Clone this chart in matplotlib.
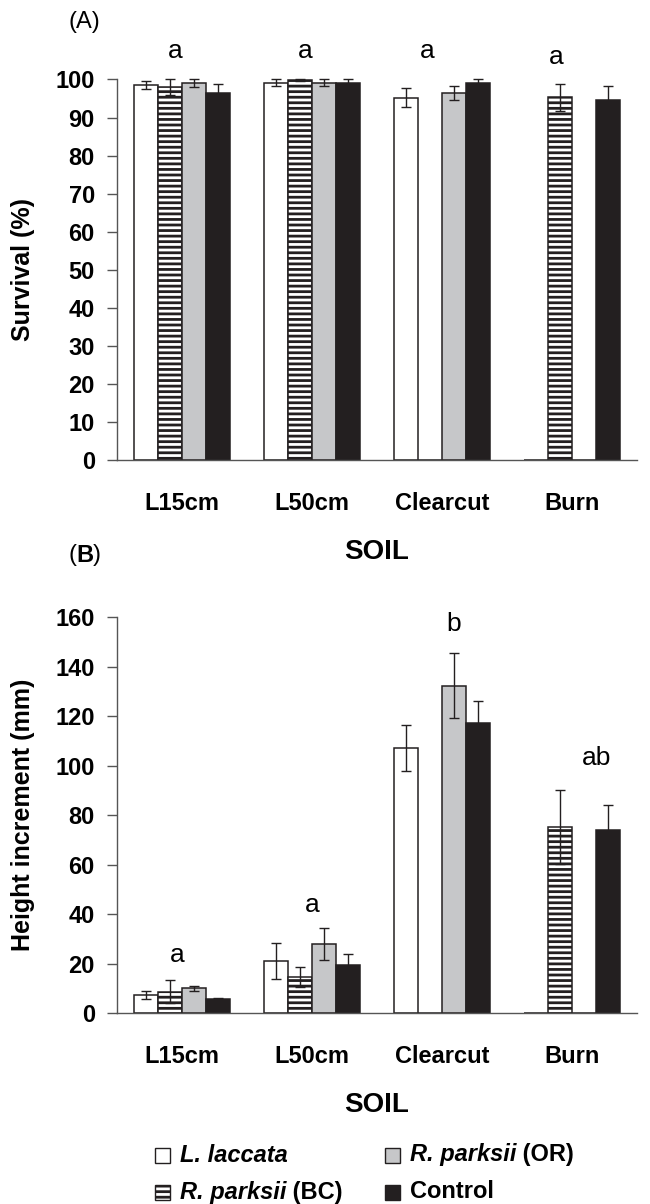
import matplotlib.pyplot as plt
from matplotlib.patches import Rectangle
import numpy as np

plt.rcParams['font.family'] = ['Liberation Sans', 'DejaVu Sans']
plt.rcParams['hatch.linewidth'] = 2.0

soils = ['L15cm', 'L50cm', 'Clearcut', 'Burn']
treatments = ['L. laccata', 'R. parksii (BC)', 'R. parksii (OR)', 'Control']

# survival (%) per treatment, order of soils
surv = [
    [98.5, 99.2, 95.2, 0],
    [98.0, 99.8, 0, 95.3],
    [99.0, 99.2, 96.5, 0],
    [96.5, 99.2, 99.0, 94.5],
]
surv_err = [
    [1.0, 0.8, 2.5, 0],
    [2.0, 0.3, 0, 3.5],
    [1.0, 0.8, 1.8, 0],
    [2.2, 0.8, 1.0, 3.8],
]
surv_letters = ['a', 'a', 'a', 'a']
surv_letter_y = [107.6, 107.6, 107.6, 105.8]
surv_letter_dx = [-0.05, -0.05, -0.115, -0.12]

# height increment (mm)
height = [
    [7.3, 21.1, 107.0, 0],
    [8.6, 14.7, 0, 75.3],
    [10.0, 27.8, 132.3, 0],
    [5.5, 19.3, 117.0, 74.0],
]
height_err = [
    [1.5, 7.3, 9.2, 0],
    [4.7, 4.0, 0, 15.0],
    [1.0, 6.5, 13.2, 0],
    [0.5, 4.5, 9.2, 10.0],
]
height_letters = ['a', 'a', 'b', 'ab']
height_letter_y = [23.5, 43.5, 157, 103]
height_letter_dx = [-0.04, 0.0, 0.09, 0.19]

face = ['white', 'white', '#c6c7c9', '#231f20']
hatch = [None, '---', None, None]
dark = '#231f20'
FS = 17

fig = plt.figure(figsize=(6.5, 12.04), dpi=100)
axA = fig.add_axes([0.18, 0.618, 0.80, 0.316])
axB = fig.add_axes([0.18, 0.1586, 0.80, 0.3289])

x = np.arange(len(soils))
w = 0.185
offs = (np.arange(4) - 1.5) * w


def draw_panel(ax, vals, errs, ymax, ystep, ylabel, hpx):
    for i in range(4):
        ax.bar(x + offs[i], vals[i], w, color=face[i], edgecolor=dark,
               hatch=hatch[i], linewidth=1.1, zorder=2)
        v = np.array(vals[i])
        e = np.array(errs[i])
        m = e > 0
        ax.errorbar((x + offs[i])[m], v[m], yerr=e[m], fmt='none', ecolor=dark,
                    elinewidth=1.0, capsize=3.5, capthick=1.0, zorder=3, clip_on=False)
    ax.set_xlim(-0.5, 3.5)
    ax.set_ylim(0, ymax)
    ax.set_yticks(np.arange(0, ymax + 1, ystep))
    ax.set_xticks(x)
    ax.set_xticklabels(soils, fontsize=FS, fontweight='bold')
    ax.tick_params(axis='x', length=0, pad=23)
    ax.tick_params(axis='y', length=7, width=1, color='#555555', labelsize=FS, pad=9)
    for lab in ax.get_yticklabels():
        lab.set_fontweight('bold')
    for s in ['top', 'right']:
        ax.spines[s].set_visible(False)
    for s in ['left', 'bottom']:
        ax.spines[s].set_color('#555555')
        ax.spines[s].set_linewidth(1.0)
    ax.set_ylabel(ylabel, fontsize=18, fontweight='bold')
    ax.yaxis.label.set_va('center')
    ax.yaxis.set_label_coords(-94 / 520, 0.5)
    ax.set_xlabel('SOIL', fontsize=20, fontweight='bold')
    ax.xaxis.label.set_va('center')
    ax.xaxis.set_label_coords(0.5, -92 / hpx)


draw_panel(axA, surv, surv_err, 100, 10, 'Survival (%)', 0.316 * 1204)
draw_panel(axB, height, height_err, 160, 20, 'Height increment (mm)', 0.3289 * 1204)

for i, t in enumerate(surv_letters):
    axA.text(x[i] + surv_letter_dx[i], surv_letter_y[i], t, fontsize=19,
             ha='center', va='center', clip_on=False)
for i, t in enumerate(height_letters):
    axB.text(x[i] + height_letter_dx[i], height_letter_y[i], t, fontsize=19,
             ha='center', va='center')

fig.text(68 / 650, 1 - 22 / 1204, '(A)', fontsize=17, va='center')
pb = fig.text(68 / 650, 1 - 555 / 1204, '(', fontsize=17, va='center')
pb2 = plt.annotate('B', xy=(1, 0.5), xycoords=pb, va='center', ha='left',
                   fontsize=17, fontweight='bold', annotation_clip=False)
plt.annotate(')', xy=(1, 0.5), xycoords=pb2, va='center', ha='left',
             fontsize=17, annotation_clip=False)

# legend drawn by hand (mixed italic / upright text)
sq_w = 15 / 650
sq_h = 15 / 1204
rows = [1 - 1155 / 1204, 1 - 1192 / 1204]
cols = [155 / 650, 385 / 650]
entries = [(0, cols[0], rows[0], 'L. laccata', ''),
           (2, cols[1], rows[0], 'R. parksii', ' (OR)'),
           (1, cols[0], rows[1], 'R. parksii', ' (BC)'),
           (3, cols[1], rows[1], 'Control', '')]
for k, cx, cy, it, rest in entries:
    fig.add_artist(Rectangle((cx, cy - sq_h / 2), sq_w, sq_h, transform=fig.transFigure,
                             facecolor=face[k], edgecolor=dark, hatch=hatch[k], linewidth=1.0))
    style = 'normal' if k == 3 else 'italic'
    t = fig.text(cx + sq_w + 10 / 650, cy, it, fontsize=FS, fontweight='bold',
                 fontstyle=style, va='center')
    if rest:
        plt.annotate(rest, xy=(1, 0.5), xycoords=t, va='center', ha='left',
                     fontsize=FS, fontweight='bold', annotation_clip=False)

fig.savefig('out.png', dpi=100)
